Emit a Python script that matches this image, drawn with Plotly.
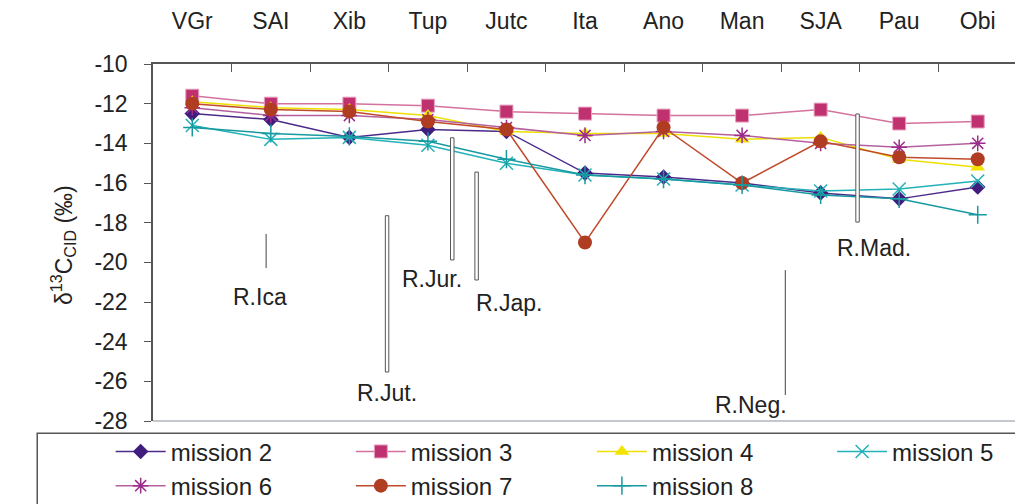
import plotly.graph_objects as go

# sampling stations along the river (left -> right)
stations = ["VGr", "SAI", "Xib", "Tup", "Jutc", "Ita", "Ano", "Man", "SJA", "Pau", "Obi"]

mission2 = [-12.5, -12.8, -13.7, -13.3, -13.4, -15.5, -15.7, -16.0, -16.5, -16.8, -16.2]
mission3 = [-11.6, -12.0, -12.0, -12.1, -12.4, -12.5, -12.6, -12.6, -12.3, -13.0, -12.9]
mission4 = [-11.9, -12.2, -12.3, -12.6, -13.4, -13.5, -13.5, -13.8, -13.7, -14.8, -15.2]
mission5 = [-13.1, -13.8, -13.7, -14.1, -15.0, -15.6, -15.8, -16.1, -16.4, -16.3, -15.9]
mission6 = [-12.2, -12.6, -12.6, -12.8, -13.2, -13.6, -13.4, -13.6, -14.0, -14.2, -14.0]
mission7 = [-12.0, -12.3, -12.4, -12.9, -13.3, -19.0, -13.2, -16.0, -13.9, -14.7, -14.8]
mission8 = [-13.2, -13.5, -13.65, -13.9, -14.8, -15.6, -15.8, -16.1, -16.6, -16.8, -17.6]

y_ticks = [-10, -12, -14, -16, -18, -20, -22, -24, -26, -28]
y_ticklabels = ["-10", "-12", "-14", "-16", "-18", "-20", "-22", "-24", "-26", "-28"]

# tributary markers: label, x (station index), y top, y bottom, double line?, label x, label y
tributaries = [
    ("R.Ica", 0.94, -18.57, -20.29, False, 0.86, -21.75),
    ("R.Jut.", 2.48, -17.65, -25.53, True, 2.48, -26.59),
    ("R.Jur.", 3.31, -13.72, -19.88, True, 3.05, -20.84),
    ("R.Jap.", 3.62, -15.45, -20.89, True, 4.03, -22.05),
    ("R.Neg.", 7.55, -20.39, -26.69, False, 7.11, -27.2),
    ("R.Mad.", 8.47, -12.52, -17.97, True, 8.68, -19.28),
]

FONT = "Liberation Sans, Arial, sans-serif"
TXT = "#222222"
FS = 23

# name, values, symbol, size, marker colour, line colour, marker edge, legend column
series = [
    ("mission 2", mission2, "diamond", 12, "#3f1c7d", "#4b2a8a", None, "legend"),
    ("mission 3", mission3, "square", 13, "#c0326f", "#d4729f", "#e8a0c0", "legend2"),
    ("mission 4", mission4, "triangle-up", 13, "#f2e400", "#eee000", None, "legend3"),
    ("mission 5", mission5, "x-thin-open", 13, "#22b2b8", "#22b2b8", None, "legend4"),
    ("mission 6", mission6, "asterisk-open", 13, "#9c2c8c", "#b4609e", None, "legend"),
    ("mission 7", mission7, "circle", 14, "#b03c22", "#c04a2c", None, "legend2"),
    ("mission 8", mission8, "cross-thin-open", 13, "#169aa0", "#169aa0", None, "legend3"),
]

fig = go.Figure()
for name, vals, sym, size, mcol, lcol, edge, leg in series:
    if "open" in sym:
        mline = dict(color=mcol, width=1.5)
    elif edge:
        mline = dict(color=edge, width=1)
    else:
        mline = dict(color=mcol, width=0)
    fig.add_trace(go.Scatter(
        x=stations, y=vals, name=name, mode="lines+markers", legend=leg,
        line=dict(color=lcol, width=1.5),
        marker=dict(symbol=sym, size=size, color=mcol, line=mline),
    ))

shapes = []
for label, xi, yt, yb, dbl, tx, ty in tributaries:
    if dbl:
        shapes.append(dict(type="rect", xref="x", yref="y", x0=xi - 0.022, x1=xi + 0.022,
                           y0=yb, y1=yt, line=dict(color="#555555", width=1),
                           fillcolor="white", layer="above"))
    else:
        shapes.append(dict(type="line", xref="x", yref="y", x0=xi, x1=xi, y0=yb, y1=yt,
                           line=dict(color="#444444", width=1)))
    fig.add_annotation(x=tx, y=ty, xref="x", yref="y", text=label, showarrow=False,
                       font=dict(family=FONT, size=FS, color=TXT))

# frame: light right/bottom edges
shapes.append(dict(type="line", xref="paper", yref="paper", x0=1, x1=1, y0=0, y1=1,
                   line=dict(color="#b0b4bc", width=1.5)))
shapes.append(dict(type="line", xref="paper", yref="paper", x0=0, x1=1, y0=0, y1=0,
                   line=dict(color="#b0b4bc", width=1.5)))
# legend box
shapes.append(dict(type="rect", xref="paper", yref="paper", x0=-0.134, x1=1.02, y0=-0.26, y1=-0.034,
                   line=dict(color="#555555", width=1.5)))

fig.add_annotation(x=-0.125, y=0.493, xref="paper", yref="paper", textangle=-90, showarrow=False,
                   text="δ<sup>13</sup>C<sub>CID</sub> (‰)",
                   font=dict(family=FONT, size=FS, color=TXT))

leg_common = dict(orientation="v", yref="container", y=0.164, xanchor="left", yanchor="top",
                  bgcolor="rgba(0,0,0,0)", itemwidth=50, tracegroupgap=0,
                  font=dict(family=FONT, size=24, color=TXT))
leg_x = [-0.049, 0.229, 0.508, 0.786]

# page body has an 8px margin, so the margins are pulled in by that much
fig.update_layout(
    width=1023, height=504,
    margin=dict(l=145, r=14, t=56, b=91, autoexpand=False),
    paper_bgcolor="white", plot_bgcolor="white",
    font=dict(family=FONT, size=FS, color=TXT),
    shapes=shapes,
    showlegend=True,
    legend=dict(x=leg_x[0], **leg_common),
    legend2=dict(x=leg_x[1], **leg_common),
    legend3=dict(x=leg_x[2], **leg_common),
    legend4=dict(x=leg_x[3], **leg_common),
    xaxis=dict(type="category", side="top", range=[-0.5, 10.5], tickson="boundaries",
               ticks="inside", ticklen=8, tickcolor="#555555", showline=True,
               linecolor="#555555", linewidth=1.5, showgrid=False, zeroline=False,
               automargin=False, ticklabelstandoff=24, tickfont=dict(size=FS)),
    yaxis=dict(range=[-28, -10], tickmode="array", tickvals=y_ticks, ticktext=y_ticklabels,
               ticks="outside", ticklen=7, tickcolor="#555555",
               showline=True, linecolor="#555555", linewidth=1.5, showgrid=False,
               zeroline=False, automargin=False, ticklabelstandoff=12, tickfont=dict(size=FS)),
)

fig.write_html("out.html")
